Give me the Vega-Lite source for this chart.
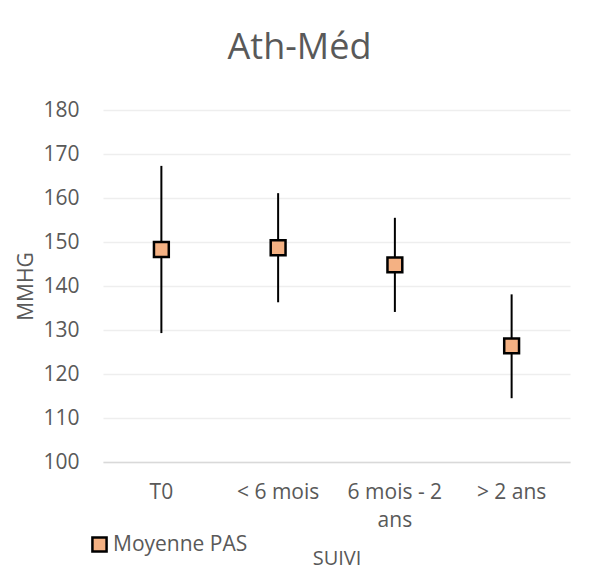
{
  "$schema": "https://vega.github.io/schema/vega-lite/v6.json",
  "width": 467,
  "height": 352,
  "autosize": {"type": "none"},
  "padding": {"left": 103, "top": 110, "right": 19, "bottom": 115},
  "background": "white",
  "title": {
    "text": "Ath-Méd",
    "anchor": "middle",
    "dx": -37,
    "offset": 32,
    "font": "Open Sans",
    "fontSize": 36,
    "fontWeight": "normal",
    "color": "#595959"
  },
  "data": {
    "values": [
      {"suivi": "T0", "moyenne": 148.3, "bas": 129.3, "haut": 167.3, "serie": "Moyenne PAS"},
      {"suivi": "< 6 mois", "moyenne": 148.7, "bas": 136.3, "haut": 161.1, "serie": "Moyenne PAS"},
      {"suivi": "6 mois - 2 ans", "moyenne": 144.8, "bas": 134.1, "haut": 155.5, "serie": "Moyenne PAS"},
      {"suivi": "> 2 ans", "moyenne": 126.4, "bas": 114.5, "haut": 138.1, "serie": "Moyenne PAS"}
    ]
  },
  "encoding": {
    "x": {
      "field": "suivi",
      "type": "nominal",
      "sort": null,
      "scale": {"paddingInner": 0, "paddingOuter": 0},
      "axis": {
        "title": "SUIVI",
        "labelAngle": 0,
        "labelPadding": 19,
        "labelExpr": "datum.label == '6 mois - 2 ans' ? ['6 mois - 2', 'ans'] : datum.label",
        "labelLineHeight": 28,
        "labelBaseline": "top",
        "ticks": false,
        "domainColor": "#d9d9d9",
        "domainWidth": 1.5,
        "titlePadding": 18,
        "titleFontSize": 20,
        "zindex": 1
      }
    }
  },
  "layer": [
    {
      "mark": {"type": "rule", "color": "black", "strokeWidth": 2},
      "encoding": {
        "y": {"field": "bas", "type": "quantitative"},
        "y2": {"field": "haut"}
      }
    },
    {
      "mark": {"type": "point", "shape": "square", "filled": true, "size": 220, "stroke": "black", "strokeWidth": 2.5, "opacity": 1},
      "encoding": {
        "y": {
          "field": "moyenne",
          "type": "quantitative",
          "scale": {"domain": [100, 180], "nice": false, "zero": false},
          "axis": {
            "title": "MMHG",
            "values": [100, 110, 120, 130, 140, 150, 160, 170, 180],
            "domain": false,
            "ticks": false,
            "labelPadding": 24,
            "gridColor": "#eeeeee",
            "gridWidth": 1.5,
            "titlePadding": 6,
            "titleFontSize": 21
          }
        },
        "color": {
          "field": "serie",
          "type": "nominal",
          "scale": {"domain": ["Moyenne PAS"], "range": ["#F4B183"]},
          "legend": {
            "title": null,
            "orient": "none",
            "legendX": -14,
            "legendY": 424,
            "symbolType": "square",
            "symbolSize": 200,
            "symbolStrokeColor": "black",
            "symbolStrokeWidth": 2.5,
            "symbolOpacity": 1,
            "labelFont": "Open Sans",
            "labelFontSize": 21,
            "labelColor": "#595959",
            "labelOffset": 3
          }
        }
      }
    }
  ],
  "config": {
    "view": {"stroke": null},
    "axis": {
      "labelFont": "Open Sans",
      "labelFontSize": 21,
      "labelColor": "#595959",
      "titleFont": "Open Sans",
      "titleFontSize": 21,
      "titleFontWeight": "normal",
      "titleColor": "#595959"
    }
  }
}
